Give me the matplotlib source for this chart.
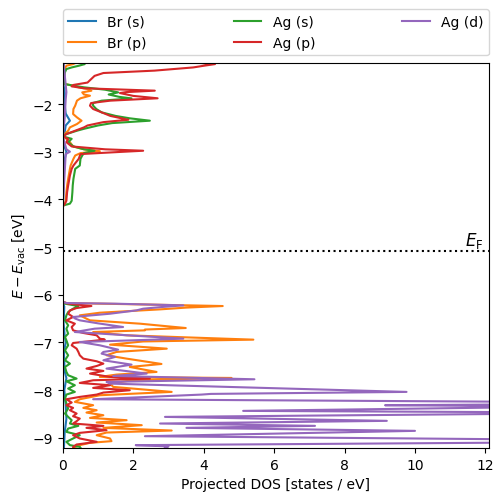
import matplotlib
matplotlib.use("Agg")
import matplotlib.pyplot as plt
import numpy as np

# energies [eV] and projected DOS [states / eV]
br_s_e = [-1.14, -1.6, -1.8, -2.0, -2.2, -2.35, -2.45, -2.6, -2.68, -2.9, -3.0, -3.2, -4.13,
          -6.15, -6.25, -6.6, -6.85, -7.0, -7.2, -7.6, -7.75, -8.0, -8.3, -8.6, -8.9, -9.21]
br_s_d = [0.02, 0.02, 0.06, 0.05, 0.08, 0.2, 0.08, 0.05, 0.0, 0.05, 0.1, 0.04, 0.0,
          0.0, 0.04, 0.02, 0.05, 0.08, 0.03, 0.05, 0.1, 0.04, 0.08, 0.1, 0.05, 0.03]

br_p_e = [-1.14, -1.163, -1.198, -1.27, -1.48, -1.58, -1.616, -1.65, -1.686, -1.721, -1.756,
          -1.80, -1.826, -1.88, -1.93, -2.035, -2.105, -2.21, -2.28, -2.35, -2.42, -2.49,
          -2.56, -2.63, -2.68, -2.73, -2.80, -2.89, -2.95, -2.99, -3.03, -3.08, -3.15,
          -3.29, -3.36, -3.57, -3.71, -3.85, -4.03, -4.10, -4.13,
          -6.15, -6.174, -6.20, -6.237, -6.27, -6.307, -6.377, -6.432, -6.502, -6.537,
          -6.607, -6.65, -6.698, -6.73, -6.747, -6.782, -6.851, -6.942, -6.98, -7.047,
          -7.131, -7.20, -7.270, -7.340, -7.452, -7.515, -7.619, -7.675, -7.724, -7.745,
          -7.79, -7.864, -7.933, -8.038, -8.108, -8.192, -8.247, -8.317, -8.373, -8.422,
          -8.471, -8.527, -8.583, -8.631, -8.680, -8.736, -8.792, -8.848, -8.890, -8.946,
          -9.015, -9.071, -9.106, -9.155, -9.21]
br_p_d = [0.35, 0.29, 0.1, 0.05, 0.04, 0.05, 0.3, 0.45, 0.7, 0.81, 0.55,
          0.6, 0.77, 0.5, 0.4, 0.35, 0.3, 0.29, 0.4, 0.53, 0.4, 0.2,
          0.15, 0.05, 0.0, 0.1, 0.2, 0.29, 0.6, 1.05, 0.5, 0.35, 0.3,
          0.22, 0.2, 0.15, 0.12, 0.1, 0.08, 0.05, 0.0,
          0.0, 0.1, 2.0, 4.54, 3.5, 2.76, 1.05, 0.48, 0.67, 0.77,
          2.19, 2.8, 3.49, 2.33, 2.33, 0.86, 1.81, 5.41, 2.28, 1.34,
          2.95, 1.52, 1.24, 1.81, 2.80, 1.9, 2.66, 1.52, 1.05, 4.79,
          2.0, 1.34, 1.43, 3.09, 1.05, 0.48, 0.34, 0.86, 0.58, 0.96,
          0.67, 1.15, 0.77, 1.81, 0.96, 2.24, 1.15, 3.09, 1.24, 0.96,
          1.34, 1.38, 0.77, 0.48, 0.3]

ag_s_e = [-1.14, -1.163, -1.198, -1.233, -1.267, -1.35, -1.48, -1.58, -1.616, -1.65, -1.70,
          -1.756, -1.80, -1.85, -1.882, -1.93, -1.98, -2.035, -2.105, -2.175, -2.25, -2.30,
          -2.35, -2.40, -2.45, -2.52, -2.56, -2.63, -2.68, -2.73, -2.80, -2.89, -2.95,
          -2.98, -3.03, -3.08, -3.15, -3.29, -3.36, -3.57, -3.71, -3.85, -4.03, -4.09, -4.13,
          -6.15, -6.188, -6.237, -6.293, -6.363, -6.432, -6.537, -6.642, -6.712, -6.816,
          -6.886, -6.956, -7.061, -7.165, -7.270, -7.375, -7.445, -7.515, -7.619, -7.689,
          -7.759, -7.815, -7.898, -7.968, -8.038, -8.094, -8.178, -8.282, -8.387, -8.492,
          -8.562, -8.631, -8.701, -8.750, -8.806, -8.876, -8.946, -9.015, -9.085, -9.155,
          -9.19, -9.21]
ag_s_d = [0.5, 0.62, 0.45, 0.25, 0.1, 0.05, 0.04, 0.05, 0.3, 0.6, 1.2,
          1.57, 1.3, 1.6, 1.95, 1.1, 0.85, 0.86, 0.95, 1.1, 1.5, 1.9,
          2.47, 1.4, 1.0, 0.6, 0.4, 0.1, 0.0, 0.25, 0.15, 0.3, 0.6,
          0.9, 0.6, 0.55, 0.5, 0.48, 0.35, 0.3, 0.28, 0.27, 0.25, 0.2, 0.0,
          0.0, 0.06, 0.44, 0.29, 0.15, 0.1, 0.06, 0.15, 0.1, 0.15,
          0.06, 0.1, 0.15, 0.06, 0.15, 0.06, 0.2, 0.06, 0.1, 0.15,
          0.39, 0.1, 0.34, 0.15, 0.34, 0.1, 0.06, 0.1, 0.15, 0.06,
          0.15, 0.25, 0.2, 0.44, 0.15, 0.1, 0.48, 0.29, 0.1, 0.2,
          0.48, 0.5]

ag_p_e = [-1.14, -1.163, -1.198, -1.233, -1.30, -1.35, -1.41, -1.48, -1.55, -1.60, -1.63,
          -1.67, -1.72, -1.75, -1.77, -1.83, -1.88, -1.93, -1.98, -2.035, -2.105, -2.175,
          -2.25, -2.33, -2.38, -2.45, -2.49, -2.56, -2.63, -2.68, -2.73, -2.80, -2.89,
          -2.95, -2.98, -3.01, -3.05, -3.15, -3.29, -3.36, -3.5, -3.71, -3.85, -4.03,
          -4.10, -4.15,
          -6.15, -6.188, -6.237, -6.279, -6.328, -6.398, -6.467, -6.537, -6.607, -6.677,
          -6.747, -6.802, -6.851, -6.921, -6.942, -7.012, -7.061, -7.131, -7.200, -7.270,
          -7.340, -7.396, -7.445, -7.494, -7.549, -7.598, -7.654, -7.724, -7.759, -7.794,
          -7.850, -7.898, -7.954, -8.003, -8.052, -8.094, -8.143, -8.192, -8.261, -8.317,
          -8.373, -8.422, -8.492, -8.548, -8.597, -8.652, -8.701, -8.750, -8.792, -8.841,
          -8.897, -8.946, -9.015, -9.085, -9.141, -9.190, -9.21]
ag_p_d = [3.9, 4.32, 4.0, 3.7, 2.6, 1.15, 0.9, 0.8, 0.7, 0.3, 0.25,
          0.6, 2.61, 1.8, 1.62, 2.0, 2.69, 1.34, 0.8, 0.77, 0.86, 1.1,
          1.35, 1.86, 1.15, 0.7, 0.6, 0.35, 0.1, 0.0, 0.15, 0.1, 0.25,
          1.2, 2.28, 1.5, 0.5, 0.45, 0.3, 0.25, 0.2, 0.15, 0.12, 0.1,
          0.05, 0.0,
          0.0, 0.15, 0.81, 0.39, 0.2, 0.15, 0.29, 0.1, 0.34, 0.25,
          0.29, 0.58, 0.96, 1.05, 1.19, 0.29, 0.25, 0.39, 0.44, 0.48,
          0.58, 0.96, 1.15, 0.96, 0.67, 1.15, 0.77, 1.34, 2.47, 0.86,
          0.48, 1.34, 0.86, 1.9, 1.15, 0.96, 0.48, 0.1, 0.25, 0.1,
          0.29, 0.2, 0.39, 0.29, 0.48, 0.39, 0.29, 1.15, 0.67, 1.24,
          0.48, 0.29, 0.48, 0.96, 0.39, 0.29, 0.3]

ag_d_e = [-1.14, -1.75, -1.9, -2.3, -2.68, -2.95, -3.0, -3.05, -4.13,
          -6.15, -6.174, -6.188, -6.223, -6.258, -6.293, -6.328, -6.398, -6.467, -6.50,
          -6.537, -6.60, -6.677, -6.712, -6.782, -6.85, -6.921, -6.956, -6.991, -7.061,
          -7.152, -7.200, -7.235, -7.305, -7.375, -7.466, -7.549, -7.654, -7.703, -7.773,
          -7.829, -7.864, -8.038, -8.08, -8.094, -8.192, -8.25, -8.30, -8.317, -8.345,
          -8.436, -8.465, -8.50, -8.562, -8.645, -8.701, -8.750, -8.792, -8.855, -8.967,
          -9.04, -9.10, -9.155, -9.18, -9.21]
ag_d_d = [0.02, 0.1, 0.08, 0.05, 0.0, 0.1, 0.2, 0.08, 0.0,
          0.0, 0.1, 1.5, 3.42, 2.8, 2.28, 2.09, 1.34, 0.29, 0.35,
          0.48, 1.0, 1.71, 0.9, 0.34, 1.81, 3.42, 2.0, 0.48, 1.05,
          1.57, 1.15, 1.1, 1.48, 1.15, 1.95, 1.24, 2.38, 1.43, 5.44,
          1.24, 1.34, 9.76, 4.2, 3.94, 0.86, 14.0, 13.0, 9.15, 14.5,
          5.12, 13.5, 12.5, 2.9, 9.2, 2.76, 7.16, 3.51, 10.0, 2.33,
          14.0, 13.0, 2.07, 3.0, 2.9]

e_fermi = -5.09

series = [("Br (s)", br_s_e, br_s_d), ("Br (p)", br_p_e, br_p_d),
          ("Ag (s)", ag_s_e, ag_s_d), ("Ag (p)", ag_p_e, ag_p_d),
          ("Ag (d)", ag_d_e, ag_d_d)]

fig, ax = plt.subplots(figsize=(5.03, 5.02), dpi=100)
fig.subplots_adjust(left=0.125, right=0.972, bottom=0.106, top=0.8725)

for label, e, d in series:
    ax.plot(d, e, label=label)

ax.axhline(e_fermi, color="k", ls=":")
ax.text(11.95, e_fermi + 0.02, r"$E_{\rm F}$", ha="right", va="bottom", fontsize=12)

ax.set_xlim(0, 12.1)
ax.set_ylim(-9.21, -1.14)
ax.set_xlabel("Projected DOS [states / eV]")
ax.set_ylabel(r"$E - E_{\rm vac}$ [eV]")
ax.legend(bbox_to_anchor=(0, 1.02, 1, 0.102), loc="lower left", ncol=3,
          mode="expand", borderaxespad=0.0)

fig.savefig("out.png")
